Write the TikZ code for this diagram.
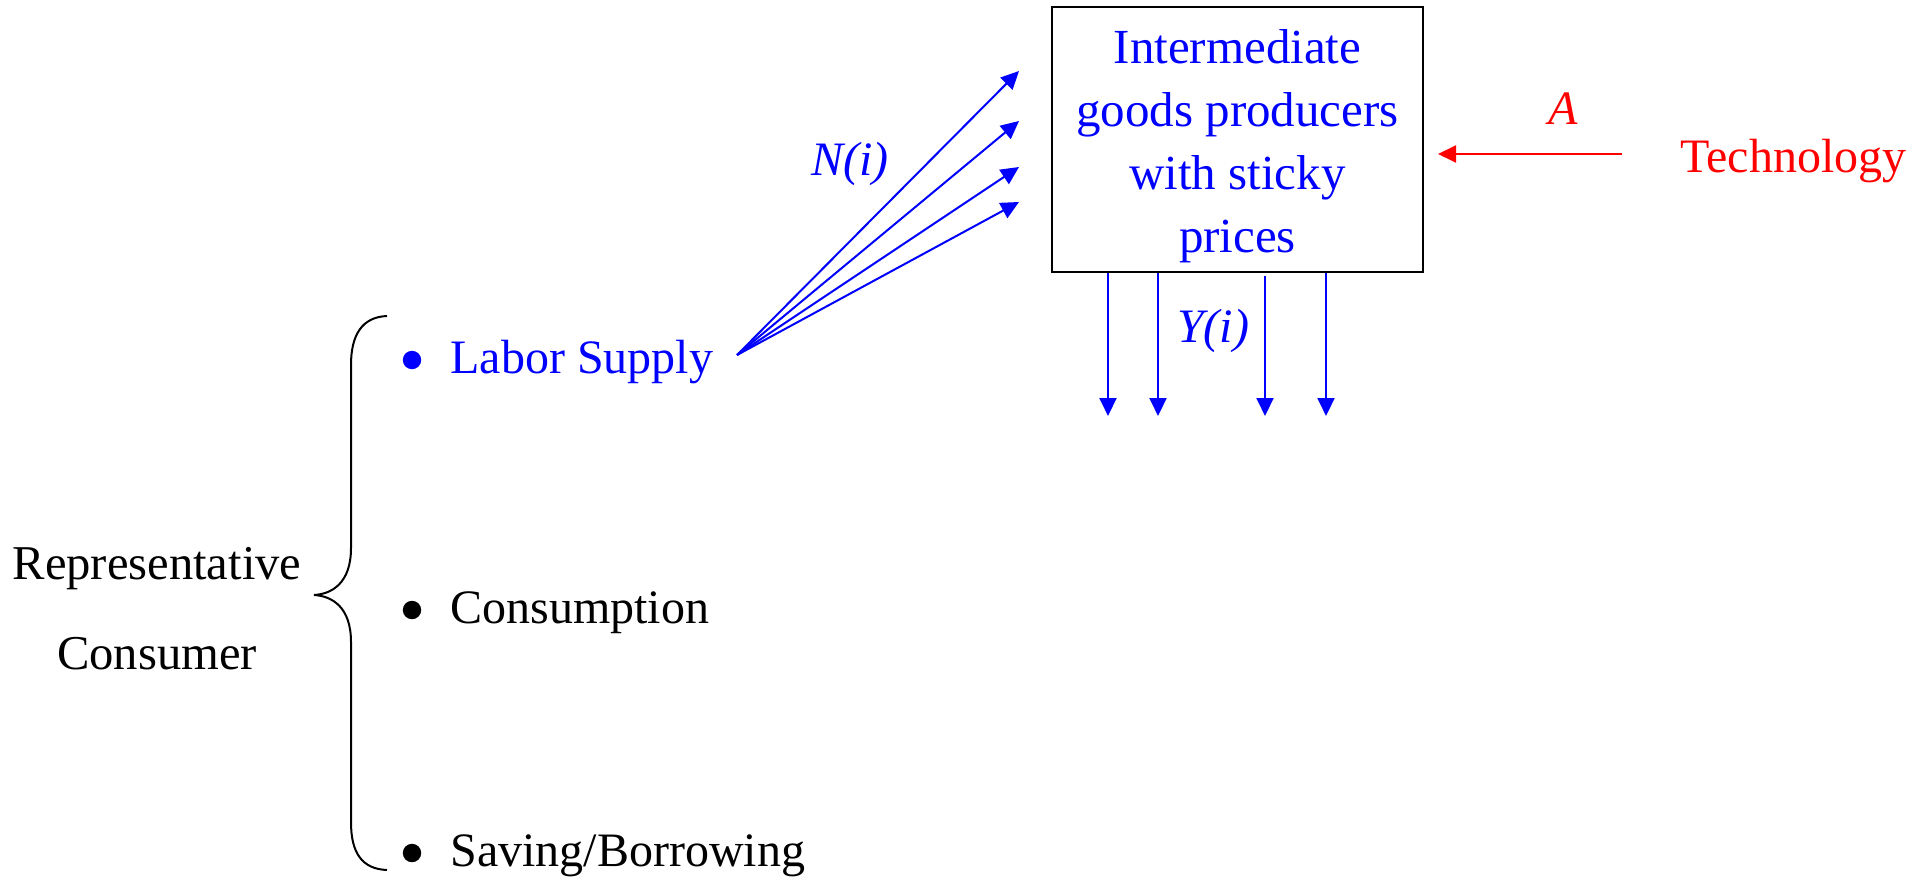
\documentclass[tikz,border=0pt]{standalone}
\usepackage{fontspec}
\setmainfont{Liberation Serif}
\usetikzlibrary{arrows.meta}
\definecolor{pblue}{RGB}{0,0,255}
\definecolor{pred}{RGB}{255,0,0}
\begin{document}
\begin{tikzpicture}[x=0.5pt,y=-0.5pt,
  txt/.style={inner sep=0pt,anchor=base west,font=\fontsize{24}{30}\selectfont},
  lbl/.style={inner sep=0pt,anchor=base,font=\fontsize{24}{30}\selectfont\itshape},
  arr/.style={line width=1pt,-{Triangle[length=9pt,width=8.5pt]}},
  dot/.style={circle,fill,inner sep=0pt,minimum size=9.2pt},
  thebox/.style={draw=black,line width=1.4pt,minimum width=185.5pt,minimum height=132.5pt,inner sep=0pt}]
\useasboundingbox (0,0) rectangle (1931,883);
% box
\node[thebox] (box) at (1237.5,139.5) {};
\node[inner sep=0pt,align=center,text=pblue,font=\fontsize{24.5}{31.5}\selectfont] (boxtext) at (1237.5,146)
  {Intermediate\\goods producers\\with sticky\\prices};
% technology
\node[txt,text=pred] (tech) at (1680,172) {Technology};
\coordinate (techout) at (1622,154);
\coordinate (techin) at (1438,154);
\draw[arr,draw=pred,fill=pred] (techout) -- (techin);
\node[lbl,text=pred] (A) at (1563,125) {A};
% consumer items
\node[dot,pblue] (b1) at (412,360) {};
\node[dot,black] (b2) at (412,610) {};
\node[dot,black] (b3) at (412,853) {};
\node[txt,text=pblue] (labor) at (450,373) {Labor Supply};
\node[txt] (cons) at (450,623) {Consumption};
\node[txt] (save) at (450,866) {Saving/Borrowing};
% representative consumer
\node[inner sep=0pt,align=center,font=\fontsize{24.3}{45}\selectfont] (rc) at (157,609) {Representative\\Consumer};
% brace
\draw[line width=1pt] (387,316) .. controls (362,317) and (351,335) .. (351,365)
  -- (351,548) .. controls (351,583) and (332,594) .. (314,595)
  .. controls (332,596) and (351,607) .. (351,642)
  -- (351,822) .. controls (351,853) and (362,869) .. (387,870);
% N(i) arrows
\coordinate (lsout) at (737,355);
\coordinate (n1) at (1019,71);
\coordinate (n2) at (1019,121);
\coordinate (n3) at (1019,167);
\coordinate (n4) at (1019,202);
\foreach \t in {n1,n2,n3,n4}{
  \draw[arr,draw=pblue,fill=pblue] (lsout) -- (\t);
}
\node[lbl,text=pblue] (N) at (850,175) {N(i)};
% Y(i) arrows
\coordinate (y1) at (1108,416);
\coordinate (y2) at (1158,416);
\coordinate (y3) at (1265,416);
\coordinate (y4) at (1326,416);
\draw[arr,draw=pblue,fill=pblue] (box.south -| y1) -- (y1);
\draw[arr,draw=pblue,fill=pblue] (box.south -| y2) -- (y2);
\draw[arr,draw=pblue,fill=pblue] ([yshift=-1.5pt]box.south -| y3) -- (y3);
\draw[arr,draw=pblue,fill=pblue] (box.south -| y4) -- (y4);
\node[lbl,text=pblue] (Y) at (1213,342) {Y(i)};
\end{tikzpicture}
\end{document}
